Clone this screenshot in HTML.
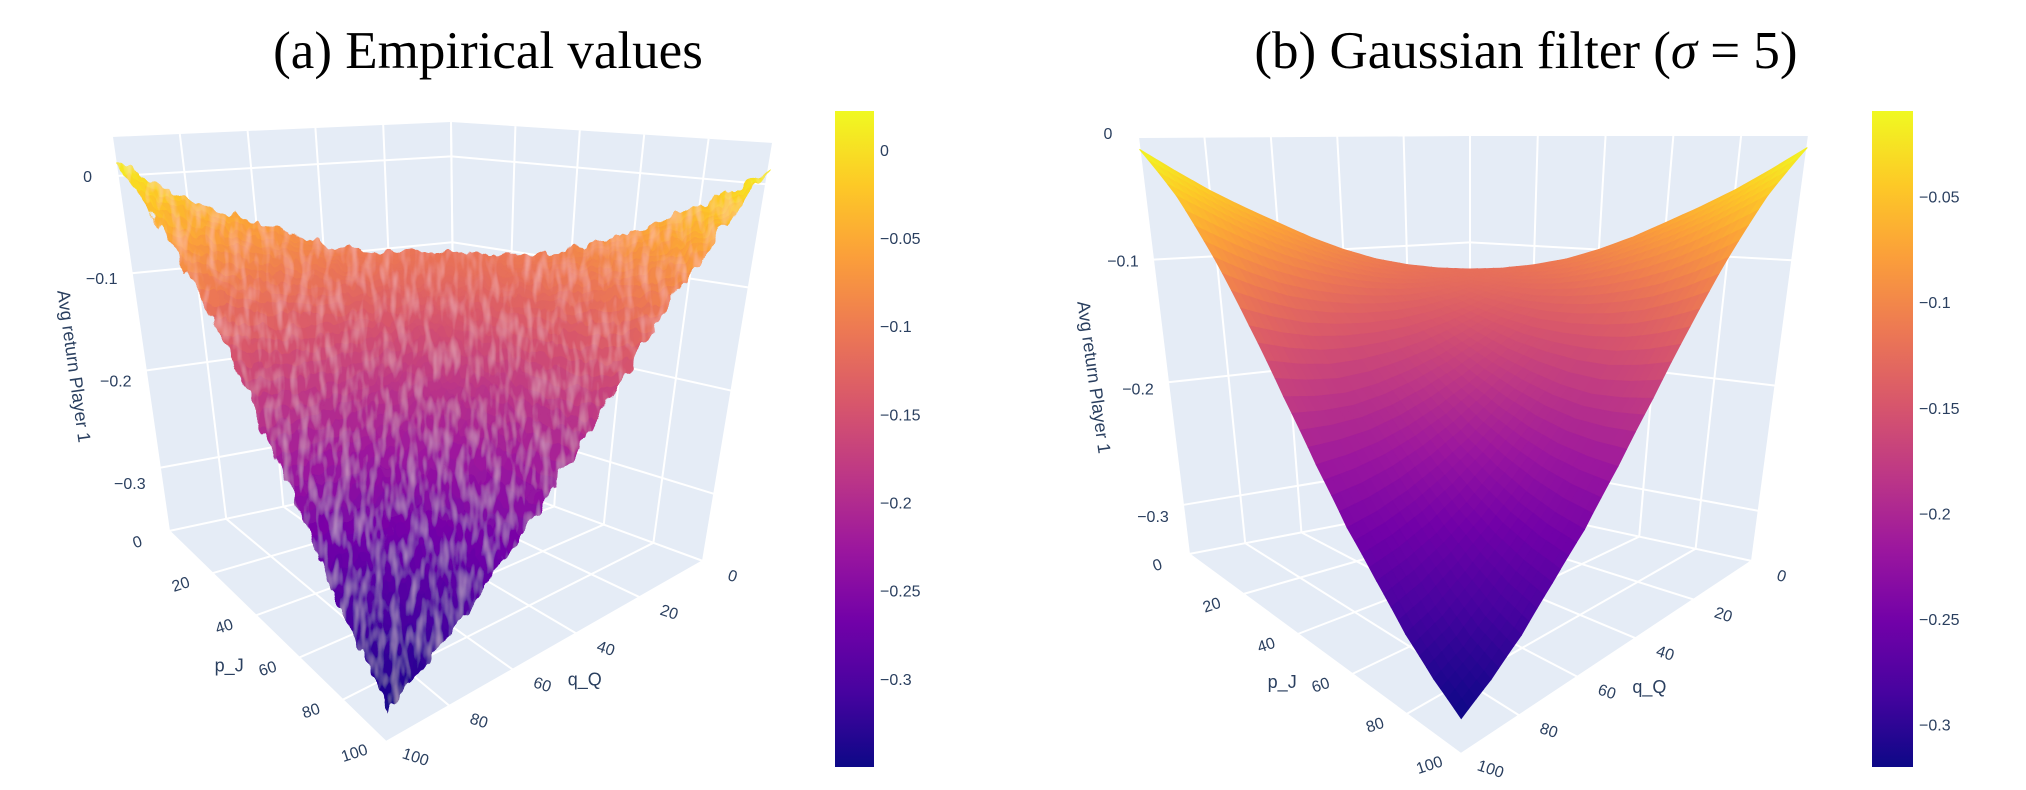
<!DOCTYPE html>
<html><head><meta charset="utf-8"><style>
html,body{margin:0;padding:0;background:#fff;}
svg{display:block;}
.tick{font-family:"Liberation Sans",sans-serif;font-size:16px;fill:#2a3f5f;}
.axt{font-family:"Liberation Sans",sans-serif;font-size:18px;fill:#2a3f5f;}
.ttl{font-family:"Liberation Serif",serif;font-size:53px;fill:#000;}
</style></head><body>
<svg id="fig" width="2026" height="790" viewBox="0 0 2026 790" xmlns="http://www.w3.org/2000/svg">
<defs>
<filter id="rough" x="-5%" y="-5%" width="110%" height="110%">
<feTurbulence type="fractalNoise" baseFrequency="0.09 0.05" numOctaves="2" seed="3" result="n"/>
<feDisplacementMap in="SourceGraphic" in2="n" scale="16" xChannelSelector="R" yChannelSelector="G" result="d"/>
<feTurbulence type="fractalNoise" baseFrequency="0.12 0.035" numOctaves="2" seed="7" result="n2"/>
<feColorMatrix in="n2" type="matrix" values="0 0 0 0 1  0 0 0 0 0.75  0 0 0 0 0.8  1.6 0 0 0 -0.72" result="hl"/>
<feComposite in="hl" in2="d" operator="in" result="hl2"/>
<feComponentTransfer in="hl2" result="hl3"><feFuncA type="linear" slope="0.45"/></feComponentTransfer>
<feMerge><feMergeNode in="d"/><feMergeNode in="hl3"/></feMerge>
</filter>
</defs>
<text class="ttl" x="488" y="68" text-anchor="middle">(a) Empirical values</text>
<text class="ttl" x="1526" y="68" text-anchor="middle">(b) Gaussian filter (<tspan font-style="italic">σ</tspan> = 5)</text>
</svg>
<script>
// Grid axes (p_J rows, q_Q columns) at 0,10,...,100
const pTicks=[0,20,40,60,80,100];
const qTicks=[0,20,40,60,80,100];
const gridP=[0,10,20,30,40,50,60,70,80,90,100];
const gridQ=[0,10,20,30,40,50,60,70,80,90,100];
const zTicksA=[0,-0.1,-0.2,-0.3];
const zTicksB=[0,-0.1,-0.2,-0.3];
const cbTicksA=[0,-0.05,-0.1,-0.15,-0.2,-0.25,-0.3];
const cbTicksB=[-0.05,-0.1,-0.15,-0.2,-0.25,-0.3];
const cbLabelsA=["0","\u22120.05","\u22120.1","\u22120.15","\u22120.2","\u22120.25","\u22120.3"];
const cbLabelsB=["\u22120.05","\u22120.1","\u22120.15","\u22120.2","\u22120.25","\u22120.3"];
const zLabels=["0","\u22120.1","\u22120.2","\u22120.3"];
// Empirical surface values (rows = p_J, cols = q_Q)
const zEmp=[
[-0.110,-0.108,-0.104,-0.098,-0.088,-0.075,-0.060,-0.045,-0.028,-0.008,0.015],
[-0.108,-0.112,-0.113,-0.113,-0.109,-0.101,-0.092,-0.082,-0.069,-0.054,-0.035],
[-0.104,-0.113,-0.120,-0.125,-0.127,-0.125,-0.121,-0.115,-0.107,-0.096,-0.082],
[-0.098,-0.113,-0.125,-0.137,-0.144,-0.148,-0.150,-0.149,-0.146,-0.140,-0.130],
[-0.088,-0.109,-0.127,-0.144,-0.158,-0.168,-0.175,-0.180,-0.182,-0.180,-0.175],
[-0.075,-0.101,-0.125,-0.148,-0.168,-0.184,-0.196,-0.206,-0.212,-0.215,-0.215],
[-0.060,-0.092,-0.121,-0.150,-0.175,-0.196,-0.214,-0.228,-0.239,-0.246,-0.250],
[-0.045,-0.082,-0.115,-0.149,-0.180,-0.206,-0.228,-0.247,-0.261,-0.272,-0.280],
[-0.028,-0.069,-0.107,-0.146,-0.182,-0.212,-0.239,-0.261,-0.279,-0.294,-0.305],
[-0.008,-0.054,-0.096,-0.140,-0.180,-0.215,-0.246,-0.272,-0.294,-0.311,-0.326],
[0.015,-0.035,-0.082,-0.130,-0.175,-0.215,-0.250,-0.280,-0.305,-0.326,-0.344]];
// Gaussian-filtered surface values
const zSmooth=[
[-0.125,-0.122,-0.117,-0.110,-0.100,-0.088,-0.074,-0.060,-0.045,-0.028,-0.010],
[-0.122,-0.124,-0.124,-0.122,-0.117,-0.109,-0.099,-0.088,-0.075,-0.060,-0.045],
[-0.117,-0.124,-0.128,-0.131,-0.132,-0.130,-0.126,-0.120,-0.112,-0.101,-0.088],
[-0.110,-0.122,-0.131,-0.140,-0.146,-0.150,-0.151,-0.150,-0.147,-0.141,-0.133],
[-0.100,-0.117,-0.132,-0.146,-0.158,-0.168,-0.175,-0.180,-0.182,-0.180,-0.176],
[-0.088,-0.109,-0.130,-0.150,-0.168,-0.183,-0.195,-0.204,-0.210,-0.213,-0.214],
[-0.074,-0.099,-0.126,-0.151,-0.175,-0.195,-0.212,-0.225,-0.235,-0.242,-0.246],
[-0.060,-0.088,-0.120,-0.150,-0.180,-0.204,-0.225,-0.242,-0.255,-0.264,-0.270],
[-0.045,-0.075,-0.112,-0.147,-0.182,-0.210,-0.235,-0.255,-0.271,-0.284,-0.292],
[-0.028,-0.060,-0.101,-0.141,-0.180,-0.213,-0.242,-0.264,-0.284,-0.299,-0.308],
[-0.010,-0.045,-0.088,-0.133,-0.176,-0.214,-0.246,-0.270,-0.292,-0.308,-0.320]];

const NS="http://www.w3.org/2000/svg";
const svg=document.getElementById('fig');
const plasma=["#0d0887","#46039f","#7201a8","#9c179e","#bd3786","#d8576b","#ed7953","#fb9f3a","#fdca26","#f0f921"];
function hex(h){return [parseInt(h.slice(1,3),16),parseInt(h.slice(3,5),16),parseInt(h.slice(5,7),16)];}
function cmap(t){t=Math.max(0,Math.min(1,t));const s=t*(plasma.length-1);const i=Math.min(plasma.length-2,Math.floor(s));const f=s-i;const a=hex(plasma[i]),b=hex(plasma[i+1]);
return "rgb("+a.map((v,k)=>Math.round(v+(b[k]-v)*f)).join(",")+")";}
function mk(tag,attrs,parent){const e=document.createElementNS(NS,tag);for(const k in attrs)e.setAttribute(k,attrs[k]);(parent||svg).appendChild(e);return e;}

function panel(cfg){
  const g=mk('g',{});
  
  
  function bil(Q,u,v){
    const x=(1-u)*(1-v)*Q.B[0]+(1-u)*v*Q.L[0]+u*(1-v)*Q.R[0]+u*v*Q.F[0];
    const y=(1-u)*(1-v)*Q.B[1]+(1-u)*v*Q.L[1]+u*(1-v)*Q.R[1]+u*v*Q.F[1];return [x,y];}
  function proj(p,q,z){const a=bil(cfg.floor,p/100,q/100),b=bil(cfg.top,p/100,q/100);const t=(z-cfg.zmin)/(cfg.zmax-cfg.zmin);return [a[0]+(b[0]-a[0])*t,a[1]+(b[1]-a[1])*t];}
  const pts=a=>a.map(v=>v[0].toFixed(1)+","+v[1].toFixed(1)).join(" ");
  const bg="#e5ecf6";
  const w1=mk('polygon',{points:pts([proj(0,0,cfg.zmin),proj(0,100,cfg.zmin),proj(0,100,cfg.zmax),proj(0,0,cfg.zmax)]),fill:bg},g);
  
  
  const w2=mk('polygon',{points:pts([proj(0,0,cfg.zmin),proj(100,0,cfg.zmin),proj(100,0,cfg.zmax),proj(0,0,cfg.zmax)]),fill:bg},g);
  
  
  const w3=mk('polygon',{points:pts([proj(0,0,cfg.zmin),proj(0,100,cfg.zmin),proj(100,100,cfg.zmin),proj(100,0,cfg.zmin)]),fill:bg},g);
  
  
  const gl={stroke:"#fff","stroke-width":2,fill:"none"};
  function line(a,b,nm){const l=mk('line',Object.assign({x1:a[0],y1:a[1],x2:b[0],y2:b[1]},gl),g);}
  qTicks.forEach(q=>{line(proj(0,q,cfg.zmin),proj(0,q,cfg.zmax),'grid-q');line(proj(0,q,cfg.zmin),proj(100,q,cfg.zmin),'grid-q');});
  pTicks.forEach(p=>{line(proj(p,0,cfg.zmin),proj(p,0,cfg.zmax),'grid-p');line(proj(p,0,cfg.zmin),proj(p,100,cfg.zmin),'grid-p');});
  cfg.zTicks.forEach(z=>{line(proj(0,100,z),proj(0,0,z),'grid-z');line(proj(0,0,z),proj(100,0,z),'grid-z');});
  const sg=mk('g',cfg.rough?{filter:"url(#rough)"}:{},g);
  
  
  const Z=cfg.z, S=4, n=gridP.length-1;
  function zi(fp,fq){const i=Math.min(n-1,Math.floor(fp)),j=Math.min(n-1,Math.floor(fq));const u=fp-i,v=fq-j;
    return (1-u)*(1-v)*Z[i][j]+u*(1-v)*Z[i+1][j]+(1-u)*v*Z[i][j+1]+u*v*Z[i+1][j+1];}
  const cells=[];
  for(let a=0;a<n*S;a++)for(let b=0;b<n*S;b++)cells.push([a,b]);
  cells.sort((c,d)=>(c[0]+c[1])-(d[0]+d[1]));
  const step=(gridP[1]-gridP[0]);
  cells.forEach(([a,b])=>{
    const fp0=a/S,fp1=(a+1)/S,fq0=b/S,fq1=(b+1)/S;
    const c=[[fp0,fq0],[fp1,fq0],[fp1,fq1],[fp0,fq1]];
    let zs=0;const P=c.map(([fp,fq])=>{const z=zi(fp,fq);zs+=z;return proj(fp*step,fq*step,z);});
    const col=cmap((zs/4-cfg.cmin)/(cfg.cmax-cfg.cmin));
    const poly=mk('polygon',{points:pts(P),fill:col,stroke:col,"stroke-width":1},sg);
    
    
  });
  pTicks.forEach(p=>{const s=proj(p,100,cfg.zmin);const t=mk('text',{class:'tick',x:s[0]-30,y:s[1]+16,"text-anchor":"middle",transform:`rotate(-18 ${s[0]-30} ${s[1]+16})`},g);t.textContent=String(p);
    });
  qTicks.forEach(q=>{const s=proj(100,q,cfg.zmin);const t=mk('text',{class:'tick',x:s[0]+28,y:s[1]+20,"text-anchor":"middle",transform:`rotate(18 ${s[0]+28} ${s[1]+20})`},g);t.textContent=String(q);
    });
  cfg.zTicks.forEach((z,k)=>{const s=proj(0,100,z);const t=mk('text',{class:'tick',x:s[0]-30,y:s[1]+cfg.zdy+k*5,"text-anchor":"middle"},g);t.textContent=zLabels[k];
    });
  const lp=proj(60,100,cfg.zmin),lq=proj(100,60,cfg.zmin);
  let t=mk('text',{class:'axt',x:lp[0]-70,y:lp[1]+14,"text-anchor":"middle"},g);t.textContent="p_J";
  
  t=mk('text',{class:'axt',x:lq[0]+72,y:lq[1]+16,"text-anchor":"middle"},g);t.textContent="q_Q";
  
  t=mk('text',{class:'axt',x:cfg.ztitle[0],y:cfg.ztitle[1],"text-anchor":"middle",transform:`rotate(82 ${cfg.ztitle[0]} ${cfg.ztitle[1]})`},g);t.textContent="Avg return Player 1";
  
  const cb=cfg.cb, gid='grad'+cfg.name;
  const lg=mk('linearGradient',{id:gid,x1:0,y1:1,x2:0,y2:0},svg.querySelector('defs'));
  plasma.forEach((c,i)=>mk('stop',{offset:i/(plasma.length-1),"stop-color":c},lg));
  const r=mk('rect',{x:cb.x,y:cb.y0,width:cb.w,height:cb.y1-cb.y0,fill:`url(#${gid})`},g);
  
  const cy=v=>cb.y0+(cfg.cmax-v)/(cfg.cmax-cfg.cmin)*(cb.y1-cb.y0);
  cfg.cbTicks.forEach((v,k)=>{const tt=mk('text',{class:'tick',x:cb.x+cb.w+6,y:cy(v)+6},g);tt.textContent=cfg.cbLabels[k];
    });
}
panel({name:'panel-a',z:zEmp,rough:true,zmin:-0.365,zmax:0.04,cmin:-0.35,cmax:0.022,zTicks:zTicksA,zdy:6,
  floor:{L:[169,531],F:[386,742],R:[703,561],B:[455,470]},top:{L:[112,137],F:[434,158],R:[773,143],B:[451,122]},
  ztitle:[68,367],cb:{x:835,w:39,y0:111,y1:767},cbTicks:cbTicksA,cbLabels:cbLabelsA});
panel({name:'panel-b',z:zSmooth,rough:false,zmin:-0.34,zmax:0.0,cmin:-0.32,cmax:-0.0095,zTicks:zTicksB,zdy:2,
  floor:{L:[1189,554],F:[1461,754],R:[1752,561],B:[1470,500]},top:{L:[1138,137],F:[1465,150],R:[1809,135],B:[1470,135]},
  ztitle:[1088,378],cb:{x:1872,w:41,y0:111,y1:767},cbTicks:cbTicksB,cbLabels:cbLabelsB});
</script>
</body></html>
